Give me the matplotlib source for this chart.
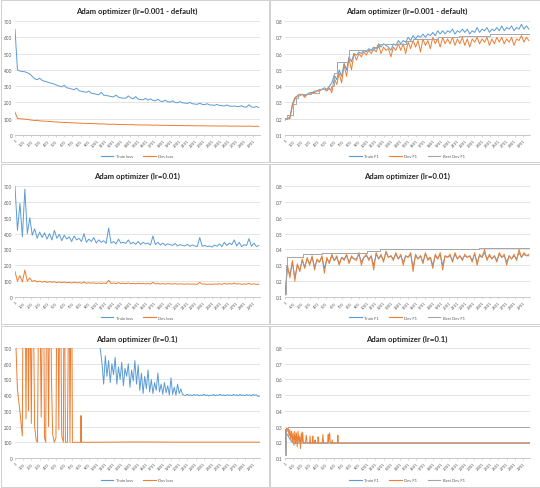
import numpy as np
import matplotlib
matplotlib.use("Agg")
import matplotlib.pyplot as plt
from matplotlib.patches import Rectangle
from matplotlib.lines import Line2D

W, H = 540, 489
BLUE = "#5B9BD5"
ORANGE = "#ED7D31"
GRAY = "#A5A5A5"
FONT = ["Lato", "DejaVu Sans"]
plt.rcParams["font.family"] = FONT

STEP = 30  # sampling interval (iterations) of the read-off values
tick_cats = list(range(1, 3001, 100))
tick_labels = [str(c) for c in tick_cats]

titles = ["Adam optimizer (lr=0.001 - default)", "Adam optimizer (lr=0.01)", "Adam optimizer (lr=0.1)"]
loss_legend = ["Train loss", "Dev loss"]
f1_legend = ["Train F1", "Dev F1", "Best Dev F1"]

# ---------------- lr = 0.001 : loss ----------------
train_loss_001 = [650, 400, 393, 390, 388, 382, 375, 360, 345, 340, 348, 336, 330, 326, 320, 318, 312, 306, 300, 296,
                  305, 290, 287, 282, 278, 288, 272, 268, 265, 262, 270, 256, 254, 250, 248, 262, 245, 242, 240, 236,
                  234, 245, 232, 228, 226, 226, 240, 228, 222, 236, 220, 218, 216, 225, 214, 222, 212, 210, 220, 208,
                  206, 214, 204, 202, 210, 200, 198, 205, 198, 196, 194, 200, 192, 190, 188, 196, 188, 186, 192, 185,
                  184, 182, 188, 181, 180, 178, 184, 178, 176, 178, 175, 174, 180, 172, 171, 186, 172, 170, 175, 168]
dev_loss_001 = [140, 102, 100, 99, 97, 96, 93, 91, 89, 90, 87, 86, 85, 84, 83, 82, 80, 80, 79, 78,
                77, 77, 76, 75, 74, 74, 73, 72, 72, 71, 71, 70, 70, 69, 68, 68, 68, 67, 66, 66,
                66, 65, 65, 64, 64, 64, 63, 64, 63, 62, 62, 62, 61, 62, 61, 61, 60, 61, 60, 60,
                59, 60, 59, 59, 58, 59, 58, 58, 58, 57, 58, 57, 57, 57, 56, 57, 56, 56, 56, 56,
                55, 56, 55, 55, 55, 56, 55, 55, 54, 55, 54, 55, 54, 54, 54, 55, 54, 53, 54, 53]

# ---------------- lr = 0.001 : F1 ----------------
train_f1_001 = [0.20, 0.20, 0.21, 0.29, 0.33, 0.34, 0.35, 0.35, 0.34, 0.35, 0.36, 0.36, 0.37, 0.37, 0.38, 0.38, 0.39, 0.38, 0.40, 0.42,
                0.47, 0.44, 0.50, 0.46, 0.54, 0.50, 0.58, 0.55, 0.60, 0.59, 0.61, 0.60, 0.62, 0.61, 0.63, 0.62, 0.64, 0.63, 0.66, 0.64,
                0.66, 0.65, 0.64, 0.62, 0.66, 0.65, 0.68, 0.66, 0.68, 0.67, 0.70, 0.68, 0.71, 0.69, 0.71, 0.70, 0.72, 0.70, 0.72, 0.71,
                0.73, 0.71, 0.74, 0.72, 0.74, 0.72, 0.74, 0.73, 0.75, 0.72, 0.74, 0.73, 0.75, 0.73, 0.75, 0.72, 0.74, 0.73, 0.76, 0.73,
                0.75, 0.74, 0.76, 0.73, 0.75, 0.74, 0.76, 0.74, 0.77, 0.74, 0.76, 0.75, 0.77, 0.74, 0.76, 0.75, 0.78, 0.75, 0.77, 0.75]
dev_f1_001 = [0.19, 0.20, 0.20, 0.28, 0.32, 0.34, 0.34, 0.35, 0.33, 0.35, 0.35, 0.36, 0.36, 0.37, 0.37, 0.38, 0.38, 0.37, 0.39, 0.36,
              0.45, 0.41, 0.48, 0.42, 0.53, 0.46, 0.57, 0.50, 0.60, 0.56, 0.60, 0.58, 0.61, 0.59, 0.62, 0.60, 0.63, 0.61, 0.65, 0.60,
              0.64, 0.62, 0.63, 0.58, 0.64, 0.62, 0.66, 0.62, 0.66, 0.60, 0.67, 0.63, 0.68, 0.64, 0.68, 0.61, 0.69, 0.65, 0.68, 0.63,
              0.70, 0.66, 0.69, 0.64, 0.70, 0.66, 0.69, 0.66, 0.70, 0.65, 0.69, 0.66, 0.70, 0.65, 0.69, 0.64, 0.69, 0.67, 0.70, 0.66,
              0.69, 0.67, 0.70, 0.65, 0.69, 0.66, 0.70, 0.67, 0.70, 0.66, 0.69, 0.67, 0.70, 0.65, 0.69, 0.68, 0.71, 0.67, 0.70, 0.68]
best_x_001 = [1, 20, 95, 130, 160, 320, 420, 560, 600, 640, 780, 1080, 1150, 1480, 1560, 1860, 2120, 2500, 2985]
best_f1_001 = [0.20, 0.22, 0.29, 0.33, 0.35, 0.36, 0.38, 0.40, 0.48, 0.55, 0.62, 0.64, 0.66, 0.68, 0.69, 0.70, 0.71, 0.72, 0.72]

# ---------------- lr = 0.01 : loss ----------------
train_loss_01 = [700, 420, 590, 380, 680, 400, 500, 390, 430, 370, 410, 375, 405, 365, 400, 360, 420, 370, 395, 355,
                 390, 365, 380, 350, 385, 360, 370, 350, 400, 345, 365, 350, 375, 340, 360, 345, 355, 338, 435, 340,
                 350, 335, 365, 340, 345, 338, 360, 335, 345, 332, 350, 330, 345, 335, 340, 328, 385, 330, 345, 328,
                 340, 325, 335, 330, 325, 338, 322, 330, 325, 322, 332, 320, 328, 322, 318, 375, 320, 326, 318, 322,
                 315, 328, 320, 335, 318, 345, 325, 340, 330, 360, 322, 345, 318, 330, 325, 368, 320, 340, 318, 325]
dev_loss_01 = [160, 100, 135, 95, 170, 100, 120, 98, 105, 95, 100, 94, 98, 92, 97, 93, 96, 91, 95, 90,
               94, 90, 92, 88, 93, 89, 91, 87, 95, 86, 90, 87, 89, 86, 88, 85, 88, 85, 105, 86,
               88, 84, 90, 85, 87, 84, 88, 84, 86, 83, 87, 84, 86, 83, 85, 82, 92, 83, 85, 82,
               84, 82, 84, 83, 82, 84, 81, 83, 82, 81, 83, 81, 82, 81, 80, 92, 81, 82, 80, 81,
               80, 82, 81, 83, 80, 86, 81, 84, 82, 88, 81, 84, 80, 82, 81, 86, 80, 83, 80, 81]

# ---------------- lr = 0.01 : F1 ----------------
train_f1_01 = [0.11, 0.28, 0.24, 0.32, 0.22, 0.30, 0.27, 0.33, 0.29, 0.34, 0.31, 0.35, 0.29, 0.33, 0.32, 0.35, 0.28, 0.34, 0.32, 0.36,
               0.33, 0.35, 0.31, 0.35, 0.34, 0.36, 0.32, 0.35, 0.34, 0.34, 0.37, 0.32, 0.35, 0.36, 0.34, 0.36, 0.30, 0.37, 0.34, 0.36,
               0.33, 0.38, 0.35, 0.36, 0.34, 0.37, 0.34, 0.36, 0.32, 0.36, 0.35, 0.37, 0.29, 0.36, 0.34, 0.36, 0.32, 0.37, 0.34, 0.35,
               0.30, 0.36, 0.34, 0.37, 0.30, 0.36, 0.35, 0.36, 0.33, 0.37, 0.34, 0.36, 0.34, 0.36, 0.35, 0.36, 0.33, 0.37, 0.32, 0.36,
               0.35, 0.38, 0.34, 0.36, 0.34, 0.36, 0.33, 0.37, 0.35, 0.36, 0.32, 0.36, 0.34, 0.36, 0.34, 0.38, 0.35, 0.37, 0.36, 0.36]
dev_f1_01 = [0.12, 0.30, 0.22, 0.33, 0.20, 0.31, 0.26, 0.34, 0.28, 0.35, 0.30, 0.36, 0.27, 0.34, 0.32, 0.36, 0.25, 0.35, 0.31, 0.37,
             0.33, 0.36, 0.30, 0.35, 0.33, 0.37, 0.31, 0.36, 0.34, 0.33, 0.38, 0.30, 0.35, 0.37, 0.33, 0.36, 0.27, 0.38, 0.34, 0.37,
             0.32, 0.39, 0.35, 0.36, 0.33, 0.38, 0.34, 0.37, 0.30, 0.36, 0.35, 0.38, 0.26, 0.37, 0.34, 0.36, 0.31, 0.38, 0.33, 0.35,
             0.28, 0.37, 0.34, 0.38, 0.27, 0.36, 0.35, 0.37, 0.32, 0.38, 0.34, 0.36, 0.33, 0.37, 0.35, 0.36, 0.32, 0.38, 0.30, 0.37,
             0.35, 0.40, 0.33, 0.37, 0.34, 0.36, 0.32, 0.38, 0.35, 0.37, 0.30, 0.36, 0.34, 0.37, 0.33, 0.40, 0.35, 0.38, 0.36, 0.37]
best_x_01 = [1, 15, 22, 225, 449, 1000, 1163, 2367, 2985]
best_f1_01 = [0.12, 0.30, 0.35, 0.37, 0.38, 0.39, 0.40, 0.41, 0.41]

# ---------------- lr = 0.1 : loss ----------------
train_start_1 = 1021
train_step_1 = 20
train_loss_1 = [760, 690, 600, 470, 650, 520, 620, 480, 600, 530, 640, 470, 580, 500, 610, 460, 570, 520, 600, 450,
                560, 490, 620, 470, 590, 430, 540, 410, 520, 440, 560, 420, 500, 410, 480, 430, 540, 420, 470, 405,
                480, 415, 460, 400, 510, 405, 450, 400, 470, 410, 440, 405, 400, 398, 405, 397, 402, 396, 404, 399,
                403, 396, 401, 398, 406, 397, 402, 395, 400, 398, 404, 396, 401, 399, 405, 397, 402, 396, 403, 398,
                401, 397, 404, 399, 402, 396, 405, 398, 401, 397, 403, 398, 402, 396, 404, 399, 402, 392, 395]
dev_x_1 = [1, 30, 60, 90, 100, 120, 135, 150, 165, 180, 200, 215, 240, 260, 275, 295, 320, 345, 360, 375,
           390, 410, 430, 445, 460, 480, 500, 515, 535, 550, 570, 590, 600, 615, 640, 660, 670, 690, 700, 800,
           805, 810, 1500, 2000, 2985]
dev_loss_1 = [900, 440, 300, 140, 1200, 1500, 250, 1500, 300, 1200, 220, 1500, 200, 110, 100, 1500, 260, 1500, 130, 100,
              1500, 200, 1500, 500, 150, 100, 130, 1500, 180, 1500, 140, 100, 1500, 100, 100, 1500, 100, 1500, 100, 100,
              270, 100, 102, 101, 101]

# ---------------- lr = 0.1 : F1 ----------------
train_x_f1_1 = [1, 8, 30, 60, 100, 2985]
train_f1_1 = [0.12, 0.26, 0.25, 0.22, 0.195, 0.195]
dev_x_f1_1 = [1, 8, 15, 22, 30, 40, 50, 60, 70, 80, 90, 100, 110, 120, 130, 140, 150, 160, 170, 180,
              190, 200, 210, 216, 225, 250, 260, 270, 300, 306, 312, 335, 339, 345, 362, 367, 372, 400, 404, 410,
              455, 463, 471, 520, 527, 532, 545, 552, 570, 576, 582, 640, 645, 650, 2985]
dev_f1_1 = [0.12, 0.28, 0.25, 0.29, 0.27, 0.29, 0.24, 0.28, 0.22, 0.27, 0.20, 0.26, 0.18, 0.27, 0.19, 0.26, 0.17, 0.27, 0.20, 0.24,
            0.16, 0.26, 0.20, 0.265, 0.195, 0.195, 0.245, 0.195, 0.195, 0.24, 0.195, 0.195, 0.24, 0.195, 0.195, 0.215, 0.195, 0.195, 0.235, 0.195,
            0.195, 0.25, 0.195, 0.195, 0.25, 0.20, 0.26, 0.195, 0.195, 0.215, 0.195, 0.195, 0.245, 0.195, 0.195]
best_x_1 = [1, 8, 22, 40, 2985]
best_f1_1 = [0.12, 0.28, 0.29, 0.295, 0.295]


def cats(values, start=1, step=STEP):
    return np.arange(len(values)) * step + start


fig = plt.figure(figsize=(W / 100, H / 100), dpi=100)
fig.patch.set_facecolor("white")


def px_axes(x0, y0, x1, y1):
    return fig.add_axes([x0 / W, 1 - y1 / H, (x1 - x0) / W, (y1 - y0) / H])


def panel_box(x0, y0, x1, y1):
    fig.add_artist(Rectangle((x0 / W, 1 - y1 / H), (x1 - x0) / W, (y1 - y0) / H,
                             transform=fig.transFigure, fill=False, ec="#D0D0D0", lw=0.7))


def style(ax, ylim, yticks, yfmt):
    ax.set_xlim(1, 2985)
    ax.set_ylim(*ylim)
    ax.set_yticks(yticks)
    ax.set_yticklabels([yfmt(v) for v in yticks])
    ax.set_xticks(tick_cats)
    ax.set_xticklabels(tick_labels, rotation=45, ha="right", va="top", rotation_mode="anchor")
    ax.yaxis.grid(True, color="#D9D9D9", lw=0.5)
    ax.set_axisbelow(True)
    for s in ["top", "right", "left"]:
        ax.spines[s].set_visible(False)
    ax.spines["bottom"].set_color("#BFBFBF")
    ax.spines["bottom"].set_linewidth(0.6)
    ax.tick_params(axis="y", length=0, labelsize=3.4, labelcolor="#595959", pad=2)
    ax.tick_params(axis="x", length=1.5, width=0.4, color="#BFBFBF", labelsize=3.0, labelcolor="#595959", pad=1)
    ax.set_facecolor("white")


def legend(cx, cy, labels, colors):
    handles = [Line2D([], [], color=c, lw=0.8) for c in colors]
    fig.legend(handles, labels, loc="center", bbox_to_anchor=(cx / W, 1 - cy / H), ncol=len(labels),
               frameon=False, fontsize=3.0, handlelength=3.0, columnspacing=2.5, handletextpad=0.6,
               labelcolor="#595959")


LW = 0.7
rows = [(0, 163, 22, 136, 11, 157), (164, 325, 187, 298, 176, 318.5), (326, 488, 349, 459, 339, 481)]
loss_data = [
    (cats(train_loss_001), train_loss_001, cats(dev_loss_001), dev_loss_001),
    (cats(train_loss_01), train_loss_01, cats(dev_loss_01), dev_loss_01),
    (cats(train_loss_1, train_start_1, train_step_1), train_loss_1, dev_x_1, dev_loss_1),
]
f1_data = [
    (cats(train_f1_001), train_f1_001, cats(dev_f1_001), dev_f1_001, best_x_001, best_f1_001),
    (cats(train_f1_01), train_f1_01, cats(dev_f1_01), dev_f1_01, best_x_01, best_f1_01),
    (train_x_f1_1, train_f1_1, dev_x_f1_1, dev_f1_1, best_x_1, best_f1_1),
]

for r, (py0, py1, ay0, ay1, ty, ly) in enumerate(rows):
    # left: loss
    panel_box(0.5, py0 + 0.5, 269, py1)
    ax = px_axes(15, ay0, 260, ay1)
    tx, ty_, dx, dy = loss_data[r]
    ax.plot(tx, ty_, color=BLUE, lw=LW)
    ax.plot(dx, dy, color=ORANGE, lw=LW)
    style(ax, (0, 700), list(range(0, 701, 100)), lambda v: f"{v:d}")
    fig.text(137 / W, 1 - ty / H, titles[r], ha="center", va="center", fontsize=5.6, fontweight="bold", color="#262626")
    legend(137, ly, loss_legend, [BLUE, ORANGE])

    # right: F1
    panel_box(270, py0 + 0.5, 539.5, py1)
    ax = px_axes(285, ay0, 530, ay1)
    tx, tyv, dx, dy, bx, by = f1_data[r]
    ax.plot(tx, tyv, color=BLUE, lw=LW)
    ax.plot(dx, dy, color=ORANGE, lw=LW)
    ax.plot(bx, by, color=GRAY, lw=LW, drawstyle="steps-post")
    yt = [round(0.1 * i, 1) for i in range(1, 9)]
    style(ax, (0.1, 0.8), yt, lambda v: f"{v:.1f}")
    fig.text(407 / W, 1 - ty / H, titles[r], ha="center", va="center", fontsize=5.6, fontweight="bold", color="#262626")
    legend(407, ly, f1_legend, [BLUE, ORANGE, GRAY])

fig.savefig("out.png", dpi=100, facecolor="white")
